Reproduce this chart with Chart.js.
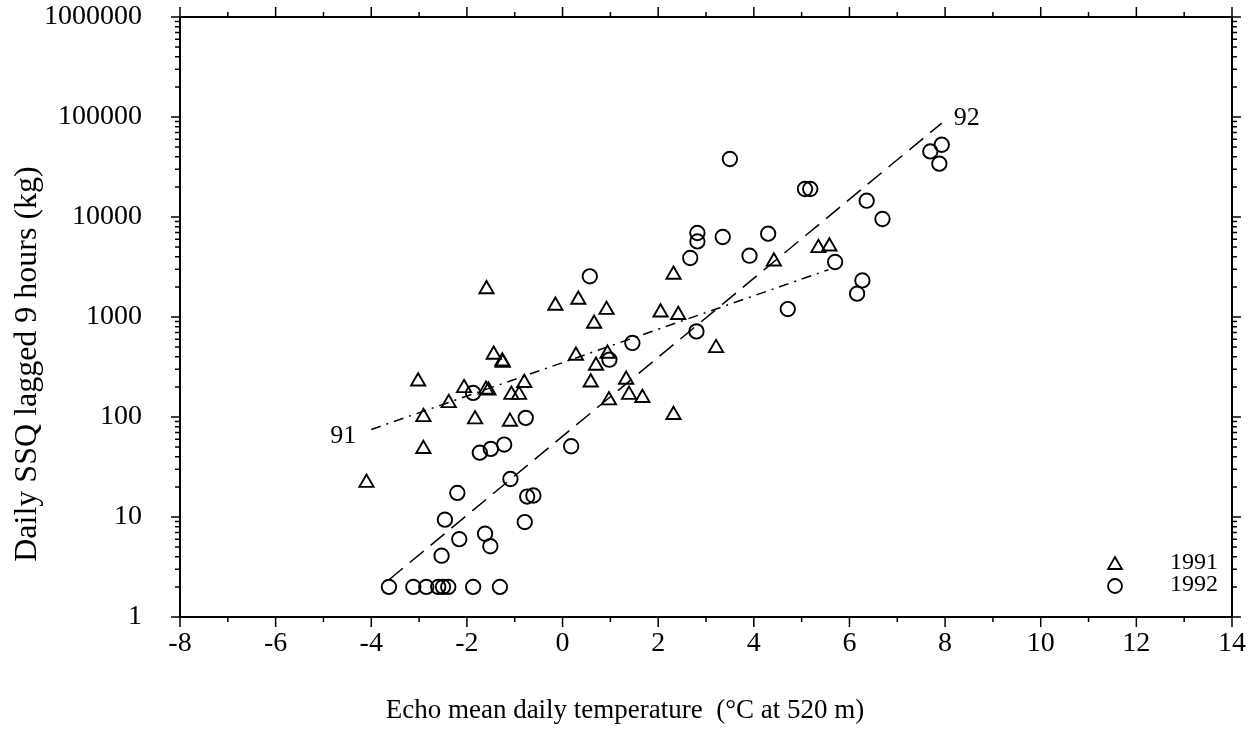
<!DOCTYPE html>
<html>
<head>
<meta charset="utf-8">
<title>Daily SSQ vs Echo temperature</title>
<script src="https://cdn.jsdelivr.net/npm/chart.js@4"></script>
<style>
  body { margin: 0; background: #fff; }
  #wrap { width: 1249px; height: 730px; }
</style>
</head>
<body>
<div id="wrap"><canvas id="chart" width="1249" height="730"></canvas></div>
<script>
// 1991 observations (triangles)
const x1991 = [-4.10, -3.02, -2.91, -2.91, -2.38, -2.06, -1.60, -1.55, -1.59, -1.44, -1.26, -1.25,
  -1.83, -1.10, -1.07, -0.91, -0.80, -0.15, 0.33, 0.92, 0.66, 0.28, 0.94, 0.70, 0.59, 1.33, 1.39,
  1.67, 0.97, 2.32, 2.32, 2.05, 2.42, 3.21, 4.42, 5.35, 5.58];
const y1991 = [22, 227, 100, 48, 138, 195, 188, 184, 1900, 420, 360, 349,
  95, 90, 167, 167, 219, 1300, 1490, 1180, 857, 410, 430, 326, 222, 236, 167,
  155, 147, 105, 2650, 1110, 1050, 490, 3600, 4900, 5080];

// 1992 observations (circles)
const x1992 = [-3.63, -3.12, -2.85, -2.60, -2.50, -2.39, -1.87, -1.31, -2.53, -2.16, -1.62, -1.51,
  -2.46, -0.79, -2.20, -0.74, -0.61, -1.09, -1.73, -1.50, -1.22, -0.77, -1.87, 0.18, 0.98, 1.46,
  0.57, 2.80, 2.67, 2.82, 2.82, 3.35, 3.50, 3.91, 4.30, 4.71, 5.07, 5.18, 5.70, 6.16, 6.27, 6.36,
  6.69, 7.69, 7.93, 7.88];
const y1992 = [2, 2, 2, 2, 2, 2, 2, 2, 4.1, 6.0, 6.8, 5.1,
  9.4, 8.9, 17.4, 16, 16.4, 24, 44, 48, 53, 98, 174, 51, 374, 550,
  2550, 718, 3890, 6920, 5700, 6310, 38000, 4100, 6810, 1200, 19050, 19050, 3550, 1710, 2320, 14550,
  9550, 45300, 52800, 34150];

// fitted regression lines (end points)
const fit91X = [-4.00, 5.56];
const fit91Y = [75, 2970];
const fit92X = [-3.63, 7.93];
const fit92Y = [2.36, 87000];

const xTicks = [-8, -6, -4, -2, 0, 2, 4, 6, 8, 10, 12, 14];
const yTicks = [1, 10, 100, 1000, 10000, 100000, 1000000];

const xTitle = 'Echo mean daily temperature  (°C at 520 m)';
const yTitle = 'Daily SSQ lagged 9 hours (kg)';

const toPoints = (xs, ys) => xs.map((v, i) => ({ x: v, y: ys[i] }));

const serif = "'Liberation Serif', 'Times New Roman', serif";
Chart.defaults.font.family = serif;
Chart.defaults.color = '#000';

// frame, tick marks on all four sides, axis titles, line labels and the legend
const decorations = {
  id: 'decorations',
  afterDatasetsDraw(chart) {
    const { ctx, chartArea: a, scales: { x, y } } = chart;
    ctx.save();
    ctx.strokeStyle = '#000';
    ctx.lineWidth = 2;
    ctx.strokeRect(a.left, a.top, a.right - a.left, a.bottom - a.top);

    ctx.lineWidth = 1.5;
    ctx.beginPath();
    for (let v = xTicks[0]; v <= xTicks[xTicks.length - 1]; v++) {
      const px = x.getPixelForValue(v);
      const len = v % 2 === 0 ? 10 : 5;
      ctx.moveTo(px, a.bottom); ctx.lineTo(px, a.bottom + len);
      ctx.moveTo(px, a.top); ctx.lineTo(px, a.top - len);
    }
    for (let d = 0; d < yTicks.length; d++) {
      for (let m = 1; m <= 9; m++) {
        const v = yTicks[d] * m;
        if (v > yTicks[yTicks.length - 1]) break;
        const py = y.getPixelForValue(v);
        const len = m === 1 ? 9 : 5;
        ctx.moveTo(a.left, py); ctx.lineTo(a.left - len, py);
        ctx.moveTo(a.right, py); ctx.lineTo(a.right + len, py);
      }
    }
    ctx.stroke();

    ctx.fillStyle = '#000';
    ctx.textBaseline = 'middle';

    // axis titles (the original sits off-centre, so they are placed by hand)
    ctx.textAlign = 'center';
    ctx.font = `27px ${serif}`;
    ctx.fillText(xTitle, 625, 711);
    ctx.save();
    ctx.translate(28, 364);
    ctx.rotate(-Math.PI / 2);
    ctx.font = `32px ${serif}`;
    ctx.fillText(yTitle, 0, 0);
    ctx.restore();

    ctx.font = `26px ${serif}`;
    ctx.textAlign = 'right';
    ctx.fillText('91', x.getPixelForValue(fit91X[0]) - 15, y.getPixelForValue(fit91Y[0]) + 7);
    ctx.textAlign = 'left';
    ctx.fillText('92', x.getPixelForValue(fit92X[1]) + 12, y.getPixelForValue(fit92Y[1]) - 5);

    // legend, bottom right corner
    const lx = a.right - 117;
    const ly = a.bottom - 54;
    ctx.lineWidth = 1.8;
    ctx.fillStyle = 'rgba(0,0,0,0)';
    Chart.helpers.drawPoint(ctx, { pointStyle: 'triangle', radius: 8, borderWidth: 1.8 }, lx, ly + 2);
    ctx.beginPath();
    ctx.arc(lx, ly + 23, 7, 0, Math.PI * 2);
    ctx.stroke();
    ctx.fillStyle = '#000';
    ctx.textAlign = 'right';
    ctx.font = `24px ${serif}`;
    ctx.fillText('1991', a.right - 14, ly);
    ctx.fillText('1992', a.right - 14, ly + 22);
    ctx.restore();
  }
};

new Chart(document.getElementById('chart'), {
  type: 'scatter',
  data: {
    datasets: [
      {
        label: '1991',
        data: toPoints(x1991, y1991),
        pointStyle: 'triangle',
        pointRadius: 8.2,
        borderColor: '#000',
        backgroundColor: 'rgba(0,0,0,0)',
        borderWidth: 1.9
      },
      {
        label: '1992',
        data: toPoints(x1992, y1992),
        pointStyle: 'circle',
        pointRadius: 7.2,
        borderColor: '#000',
        backgroundColor: 'rgba(0,0,0,0)',
        borderWidth: 1.9
      },
      {
        type: 'line',
        label: 'fit 91',
        data: toPoints(fit91X, fit91Y),
        borderColor: '#000',
        borderWidth: 1.5,
        borderDash: [10, 6, 2, 6],
        pointRadius: 0,
        fill: false
      },
      {
        type: 'line',
        label: 'fit 92',
        data: toPoints(fit92X, fit92Y),
        borderColor: '#000',
        borderWidth: 1.5,
        borderDash: [18, 9],
        pointRadius: 0,
        fill: false
      }
    ]
  },
  options: {
    responsive: false,
    animation: false,
    layout: { padding: { top: 17, right: 17, left: 0, bottom: 0 } },
    plugins: {
      legend: { display: false },
      tooltip: { enabled: false }
    },
    scales: {
      x: {
        type: 'linear',
        min: -8,
        max: 14,
        grid: { display: false, drawTicks: false },
        border: { display: false },
        afterBuildTicks: (scale) => { scale.ticks = xTicks.map(v => ({ value: v })); },
        afterFit: (scale) => {
          scale.height = 113;
          scale.paddingLeft = 0;
          scale.paddingRight = 0;
        },
        ticks: {
          autoSkip: false,
          maxRotation: 0,
          padding: 10,
          font: { size: 28 }
        }
      },
      y: {
        type: 'logarithmic',
        min: 1,
        max: 1000000,
        grid: { display: false, drawTicks: false },
        border: { display: false },
        afterBuildTicks: (scale) => { scale.ticks = yTicks.map(v => ({ value: v })); },
        afterFit: (scale) => {
          scale.width = 180;
          scale.paddingTop = 0;
          scale.paddingBottom = 0;
        },
        ticks: {
          autoSkip: false,
          padding: 38,
          font: { size: 28 },
          callback: (v) => String(v)
        }
      }
    }
  },
  plugins: [decorations]
});
</script>
</body>
</html>
